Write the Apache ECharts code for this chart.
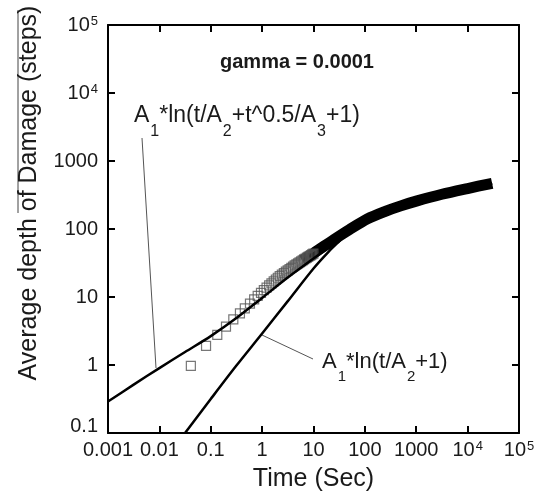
<!DOCTYPE html>
<html><head><meta charset="utf-8">
<script src="https://cdn.jsdelivr.net/npm/echarts@6/dist/echarts.min.js"></script>
<style>html,body{margin:0;padding:0;background:#fff}#c{width:543px;height:497px}</style>
</head><body><div id="c"></div>
<script>
// ---- data ----
const xTickLabels = ['0.001','0.01','0.1','1','10','100','1000','10{sup|4}','10{sup|5}'];
const yTickLabels = ['{low|0.1}','1','10','100','1000','10{sup|4}','10{sup|5}'];

// individual hollow squares (time, depth)
const sqTime  = [0.041,0.081,0.134,0.198,0.275,0.37,0.46,0.58,0.70,0.82,0.95,1.08,1.22,1.37,1.52,1.68,1.85,2.02,2.2,2.42,2.65,2.9,3.15,3.42,3.7,4.0,4.3,4.65,5.0,5.35,5.75,6.15,6.55,7.0,7.45,7.9,8.4,8.9,9.4,9.95];
const sqDepth = [0.97,1.91,2.77,3.67,4.7,5.76,6.8,8.0,9.2,10.4,11.5,12.6,13.7,14.8,15.9,17.0,18.1,19.2,20.3,21.4,22.5,23.6,24.7,25.8,26.9,28.0,29.1,30.2,31.3,32.4,33.5,34.6,35.7,36.8,37.9,39.0,40.1,41.2,42.3,43.4];

// dense part of the data, where the squares merge into a solid band
const bandTime  = [6, 10, 25, 50, 112, 250, 500, 1000, 3160, 10000, 30000];
const bandDepth = [34.5, 44, 70, 98, 141, 182, 219, 257, 324, 394, 470];

// fit A1*ln(t/A2+t^0.5/A3+1)
const fit1Time  = [0.001, 0.00316, 0.01, 0.0316, 0.1, 0.316, 1, 3.16, 10, 20, 31.6, 50, 112, 250, 500, 1000, 3160, 10000, 30000];
const fit1Depth = [0.29, 0.515, 0.90, 1.55, 2.66, 4.9, 9.7, 19.3, 36.7, 53.7, 69, 98, 141, 182, 219, 257, 324, 394, 470];

// fit A1*ln(t/A2+1)
const fit2Time  = [0.0316, 0.1, 0.316, 1, 3.16, 10, 20, 31.6, 50, 112, 250, 500, 1000, 3160, 10000, 30000];
const fit2Depth = [0.1, 0.316, 0.98, 2.9, 8.7, 26.3, 47, 66, 92, 138, 180, 217, 255, 322, 392, 468];

// ---- chart ----
const zip = (a, b) => a.map((v, i) => [v, b[i]]);
const FONT = 'Liberation Sans, Arial, sans-serif';
const TXT = '#1a1a1a';
const labelRich = {
  sup: { fontSize: 13, verticalAlign: 'top', lineHeight: 13, fontFamily: FONT, color: TXT, padding: [0,0,0,1] },
  low: { fontSize: 20, fontFamily: FONT, color: TXT, padding: [0,0,14,0] }
};
const fmtX = v => xTickLabels[Math.round(Math.log10(v)) + 3];
const fmtY = v => yTickLabels[Math.round(Math.log10(v)) + 1];

const axisCommon = {
  type: 'log', logBase: 10,
  axisLine: { onZero: false, lineStyle: { color: '#000', width: 2 } },
  axisTick: { inside: true, length: 7, lineStyle: { color: '#000', width: 2 } },
  splitLine: { show: false }, minorTick: { show: false }
};

const chart = echarts.init(document.getElementById('c'), null, { renderer: 'canvas' });
chart.setOption({
  animation: false,
  backgroundColor: '#fff',
  grid: { left: 108, right: 24, top: 25, bottom: 63 },
  xAxis: [
    Object.assign({}, axisCommon, {
      min: 0.001, max: 100000, splitNumber: 8, position: 'bottom',
      axisLabel: { fontSize: 20, color: TXT, fontFamily: FONT, margin: 7, formatter: fmtX, rich: labelRich, showMinLabel: true, showMaxLabel: true },
      name: 'Time (Sec)', nameLocation: 'middle', nameGap: 34,
      nameTextStyle: { fontSize: 25, color: TXT, fontFamily: FONT }
    }),
    Object.assign({}, axisCommon, {
      min: 0.001, max: 100000, splitNumber: 8, position: 'top',
      axisLabel: { show: false }
    })
  ],
  yAxis: [
    Object.assign({}, axisCommon, {
      min: 0.1, max: 100000, splitNumber: 6, position: 'left',
      axisLabel: { fontSize: 20, color: TXT, fontFamily: FONT, margin: 10, formatter: fmtY, rich: labelRich, showMinLabel: true, showMaxLabel: true }
    }),
    Object.assign({}, axisCommon, {
      min: 0.1, max: 100000, splitNumber: 6, position: 'right',
      axisLabel: { show: false }
    })
  ],
  series: [
    { type: 'line', data: zip(bandTime, bandDepth), smooth: 0.3, showSymbol: false,
      lineStyle: { color: '#000', width: 11, cap: 'butt' }, z: 2 },
    { type: 'scatter', data: zip(sqTime, sqDepth), symbol: 'rect', symbolSize: 9,
      itemStyle: { color: 'rgba(0,0,0,0)', borderColor: '#555', borderWidth: 1.2 }, z: 3 },
    { type: 'line', data: zip(fit1Time, fit1Depth), smooth: 0.3, showSymbol: false,
      lineStyle: { color: '#000', width: 2.5 }, z: 4 },
    { type: 'line', data: zip(fit2Time, fit2Depth), smooth: 0.3, showSymbol: false,
      lineStyle: { color: '#000', width: 2.5 }, z: 4 }
  ],
  graphic: [
    { type: 'text', x: 297, y: 62, style: { text: 'gamma = 0.0001', fontSize: 20, fontWeight: 'bold', fontFamily: FONT, fill: TXT, align: 'center', verticalAlign: 'middle' } },
    { type: 'text', x: 134, y: 104, style: {
        text: '{m|A}{s|1}{m|*ln(t/A}{s|2}{m|+t^0.5/A}{s|3}{m|+1)}',
        rich: { m: { fontSize: 23, fontFamily: FONT, fill: TXT, verticalAlign: 'top' },
                s: { fontSize: 16, fontFamily: FONT, fill: TXT, verticalAlign: 'top', padding: [20,0,0,1] } } } },
    { type: 'text', x: 322, y: 351, style: {
        text: '{m|A}{s|1}{m|*ln(t/A}{s|2}{m|+1)}',
        rich: { m: { fontSize: 22, fontFamily: FONT, fill: TXT, verticalAlign: 'top' },
                s: { fontSize: 15, fontFamily: FONT, fill: TXT, verticalAlign: 'top', padding: [18,0,0,1] } } } },
    { type: 'line', shape: { x1: 142, y1: 138, x2: 156, y2: 368 }, style: { stroke: '#555', lineWidth: 1 } },
    { type: 'line', shape: { x1: 262, y1: 335, x2: 313, y2: 359 }, style: { stroke: '#555', lineWidth: 1 } },
    { type: 'line', shape: { x1: 18, y1: 10, x2: 18, y2: 213 }, style: { stroke: '#444', lineWidth: 1 } },
    { type: 'text', x: 29, y: 193, rotation: Math.PI / 2, style: { text: 'Average depth of Damage (steps)', fontSize: 25, fontFamily: FONT, fill: TXT, align: 'center', verticalAlign: 'middle' } }
  ]
});
</script>
</body></html>
